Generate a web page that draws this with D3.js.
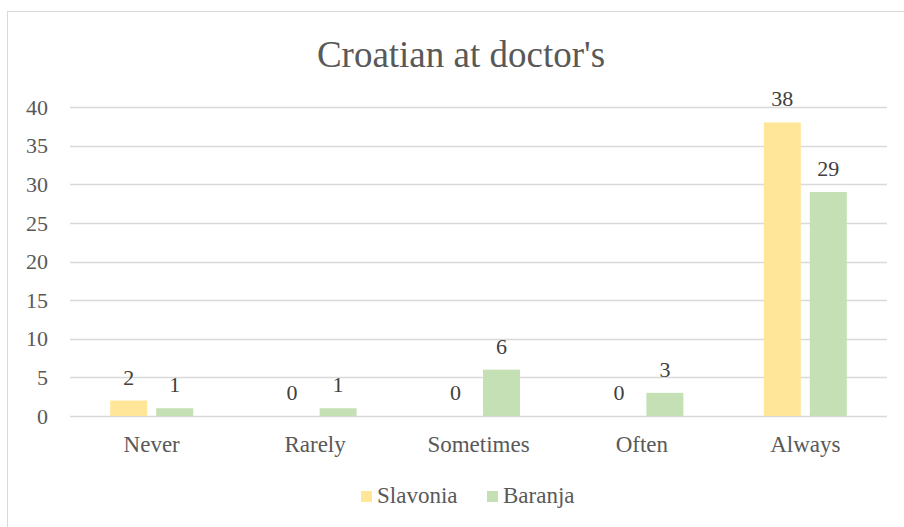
<!DOCTYPE html>
<meta charset="utf-8">
<script src="https://d3js.org/d3.v7.min.js"></script>
<style>
  body { margin: 0; background: white; }
</style>
<body>
<div id="chart"></div>
<script>
var categories = ["Never", "Rarely", "Sometimes", "Often", "Always"];
var seriesNames = ["Slavonia", "Baranja"];
var slavonia = [2, 0, 0, 0, 38];
var baranja = [1, 1, 6, 3, 29];
var yTicks = [0, 5, 10, 15, 20, 25, 30, 35, 40];
var colors = ["#FFE699", "#C5E0B4"];

var FONT = "'Liberation Serif', 'Times New Roman', Times, 'DejaVu Serif', serif";
var W = 904, H = 527;
var plot = {left: 70, right: 887, top: 107, bottom: 416};

var svg = d3.select("#chart").append("svg")
    .attr("width", W)
    .attr("height", H)
    .attr("font-family", FONT);

// chart frame
svg.append("rect")
    .attr("x", 7.5).attr("y", 11.5)
    .attr("width", 1000).attr("height", 1000)
    .attr("fill", "white")
    .attr("stroke", "#D9D9D9");

svg.append("text")
    .attr("x", 461)
    .attr("y", 67)
    .attr("text-anchor", "middle")
    .attr("font-family", FONT)
    .attr("font-size", 37)
    .attr("fill", "#595959")
    .text("Croatian at doctor's");

var x = d3.scaleBand()
    .domain(categories)
    .range([plot.left, plot.right]);

var y = d3.scaleLinear()
    .domain([0, 40])
    .range([plot.bottom, plot.top]);

// gridlines
svg.append("g")
  .selectAll("line")
  .data(yTicks)
  .join("line")
    .attr("x1", plot.left).attr("x2", plot.right)
    .attr("y1", function(d) { return Math.round(y(d)) + 0.5; })
    .attr("y2", function(d) { return Math.round(y(d)) + 0.5; })
    .attr("stroke", "#D9D9D9")
    .attr("stroke-width", 1.5);

// y tick labels
svg.append("g")
  .selectAll("text")
  .data(yTicks)
  .join("text")
    .attr("x", 48)
    .attr("y", function(d) { return y(d); })
    .attr("dy", "0.35em")
    .attr("text-anchor", "end")
    .attr("font-family", FONT)
    .attr("font-size", 22)
    .attr("fill", "#595959")
    .text(function(d) { return d; });

// category labels
svg.append("g")
  .selectAll("text")
  .data(categories)
  .join("text")
    .attr("x", function(d) { return x(d) + x.bandwidth() / 2; })
    .attr("y", 452)
    .attr("text-anchor", "middle")
    .attr("font-family", FONT)
    .attr("font-size", 23)
    .attr("fill", "#595959")
    .text(function(d) { return d; });

var barW = 37, gap = 9;
var x1 = d3.scaleOrdinal()
    .domain(seriesNames)
    .range([-(barW + gap / 2), gap / 2]);

var rows = [];
categories.forEach(function(c, i) {
  rows.push({cat: c, s: "Slavonia", v: slavonia[i]});
  rows.push({cat: c, s: "Baranja", v: baranja[i]});
});
var color = d3.scaleOrdinal().domain(seriesNames).range(colors);

svg.append("g")
  .selectAll("rect")
  .data(rows)
  .join("rect")
    .attr("x", function(d) { return x(d.cat) + x.bandwidth() / 2 + x1(d.s); })
    .attr("y", function(d) { return y(d.v); })
    .attr("width", barW)
    .attr("height", function(d) { return y(0) - y(d.v); })
    .attr("fill", function(d) { return color(d.s); });

svg.append("g")
  .selectAll("text")
  .data(rows)
  .join("text")
    .attr("x", function(d) { return x(d.cat) + x.bandwidth() / 2 + x1(d.s) + barW / 2; })
    .attr("y", function(d) { return y(d.v) - 16; })
    .attr("text-anchor", "middle")
    .attr("font-family", FONT)
    .attr("font-size", 22)
    .attr("fill", "#404040")
    .text(function(d) { return d.v; });

// legend
var legend = svg.append("g");
var legX = [361, 487];
seriesNames.forEach(function(s, i) {
  legend.append("rect")
    .attr("x", legX[i]).attr("y", 491)
    .attr("width", 11).attr("height", 11)
    .attr("fill", color(s));
  legend.append("text")
    .attr("x", legX[i] + 16).attr("y", 503)
    .attr("font-family", FONT)
    .attr("font-size", 23)
    .attr("fill", "#595959")
    .text(s);
});
</script>
</body>
